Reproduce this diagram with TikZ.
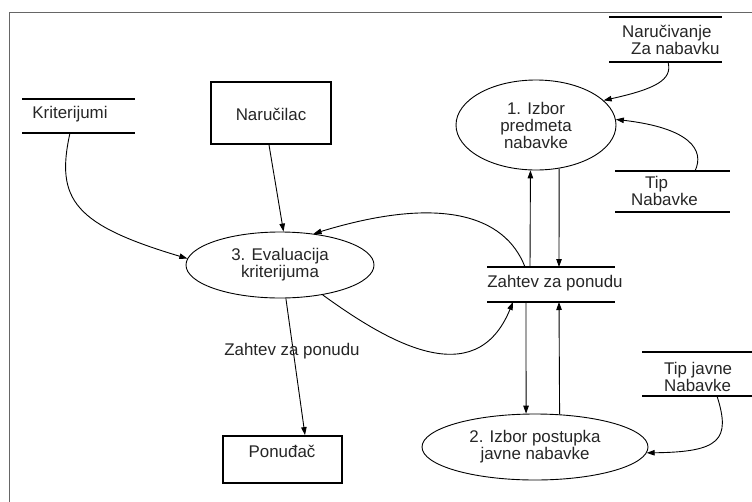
\documentclass[tikz,border=0pt]{standalone}
\usepackage{fontspec}
\setmainfont{Liberation Sans}
\usetikzlibrary{arrows.meta,shapes.geometric,calc}

\tikzset{
  proc/.style={draw=black, line width=0.9pt, ellipse, inner sep=0pt, align=center},
  entity/.style={draw=black, line width=1.8pt, rectangle, inner sep=0pt},
  storeline/.style={line width=2pt, black},
  txt/.style={inner sep=0pt, align=center, font=\fontsize{16.9}{17}\selectfont, text=black!85},
  flow/.style={line width=0.9pt, -{Triangle[length=8pt,width=5.5pt]}},
  frame/.style={draw=black!60, line width=1.3pt}
}

\begin{document}
\begin{tikzpicture}[x=1pt, y=-1pt]
  \useasboundingbox (0,0) rectangle (752,501);
  \fill[white] (0,0) rectangle (752,501);

  % outer frame (runs off the page to the right and below)
  \draw[frame] (9.5,530) -- (9.5,12.3) -- (770,12.3);

  % processes
  \node[proc, minimum width=160pt, minimum height=90pt, txt, draw=black, line width=0.9pt]
    (e1) at (536,125) {1. Izbor\\predmeta\\nabavke};
  \node[proc, minimum width=226pt, minimum height=66pt, txt, draw=black, line width=0.9pt]
    (e2) at (535,447) {2. Izbor postupka\\javne nabavke};
  \node[proc, minimum width=188pt, minimum height=66pt, txt, draw=black, line width=0.9pt]
    (e3) at (280,265) {3. Evaluacija\\kriterijuma};

  % external entities
  \node[entity, minimum width=120pt, minimum height=62pt] (naru) at (271,113) {};
  \node[txt] (narut) at (271,114) {Naručilac};
  \node[entity, minimum width=119pt, minimum height=47pt] (ponu) at (282.5,459.5) {};
  \node[txt] (ponut) at (282,451) {Ponuđač};

  % data stores
  \draw[storeline] (609,17) -- (722,17);
  \draw[storeline] (609,62) -- (722,62);
  \node[txt, align=left, anchor=west] (nzt) at (622,39.5) {Naručivanje\\\hspace*{9pt}Za nabavku};
  \coordinate (nzb) at (668,62);

  \draw[storeline] (22,99) -- (135,99);
  \draw[storeline] (22,133) -- (135,133);
  \node[txt] (krt) at (70,114) {Kriterijumi};
  \coordinate (krb) at (70,133);

  \draw[storeline] (615,171) -- (730,171);
  \draw[storeline] (615,212) -- (730,212);
  \node[txt, align=left, anchor=west] (tnt) at (631,190.5) {\hspace*{14pt}Tip\\Nabavke};
  \coordinate (tnt0) at (695,171);

  \draw[storeline] (487,267) -- (615,267);
  \draw[storeline] (487,302) -- (615,302);
  \node[txt] (zpt) at (555,283) {Zahtev za ponudu};
  \coordinate (zt1) at (525,267);
  \coordinate (zt2) at (530,267);
  \coordinate (zt3) at (559,267);
  \coordinate (zb1) at (513,302);
  \coordinate (zb2) at (526,302);
  \coordinate (zb3) at (559,302);

  \draw[storeline] (642,352) -- (760,352);
  \draw[storeline] (642,396) -- (760,396);
  \node[txt, align=left, anchor=west] (tjt) at (664,376.5) {Tip javne\\Nabavke};
  \coordinate (tjb) at (717,396);

  % data flows
  \draw[flow] (nzb) .. controls (673,80) and (655,89) .. (e1.20);
  \draw[flow] (tnt0) .. controls (705,150) and (690,128) .. (e1.4);
  \draw[flow] (zt2) -- (e1.-97.6);
  \draw[flow] (e1.-62) -- (zt3);
  \draw[flow] (zt1) .. controls (505,215) and (440,195) .. (e3.43);
  \draw[flow] ($(naru.south)+(-2,0)$) -- (e3.84);
  \draw[flow] (krb) .. controls (55,200) and (75,225) .. (e3.176);
  \draw[flow] (e3.-35) .. controls (385,340) and (475,395) .. (zb1);
  \draw[flow] (e3.-80) -- ($(ponu.north)+(22.5,0)$);
  \draw[flow] (zb2) -- (e2.105.3);
  \draw[flow] (e2.53.3) -- (zb3);
  \draw[flow] (tjb) .. controls (731,440) and (720,452) .. (e2.-3);

  % flow label
  \node[txt] (lbl) at (292,351) {Zahtev za ponudu};
\end{tikzpicture}
\end{document}
